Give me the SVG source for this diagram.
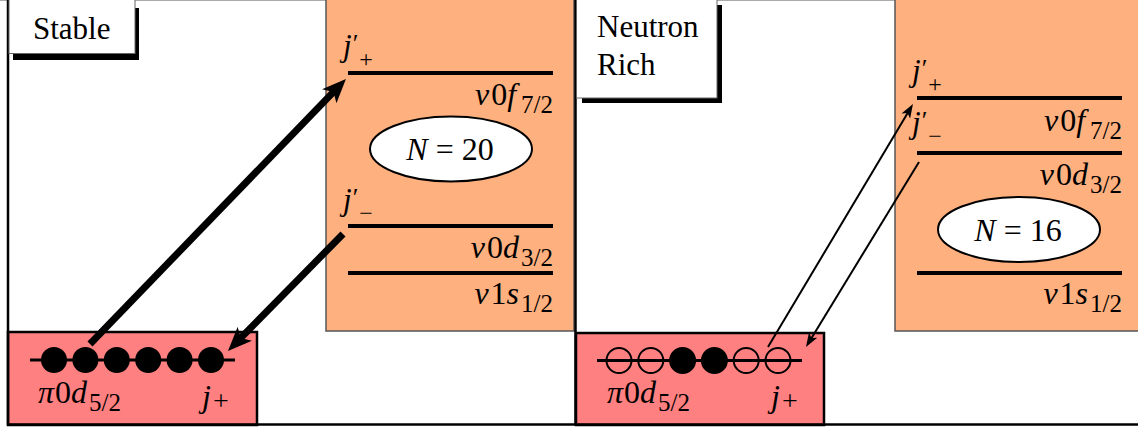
<svg xmlns="http://www.w3.org/2000/svg" width="1138" height="429" viewBox="0 0 1138 429" font-family="'Liberation Serif', 'Times New Roman', 'DejaVu Serif', serif">
<style>
text{font-family:"Liberation Serif","Times New Roman","DejaVu Serif",serif;font-size:31px;fill:#000}
.m{font-size:32px}
.it{font-style:italic}
.sub{font-size:25px}
.sm{font-size:24px}
.pl{font-size:28px}
.pr{font-size:26px}
.orange{fill:#FFB07F;stroke:#555;stroke-width:1.5}
.red{fill:#FF8080;stroke:#000;stroke-width:2.5}
.lvl{stroke:#000;stroke-width:4}
.ell{fill:#fff;stroke:#000;stroke-width:2}
.thick{stroke:#000;stroke-width:7;fill:none}
.thin{stroke:#000;stroke-width:2;fill:none}
.frame{stroke:#000;stroke-width:2.5;fill:none}
</style>
<defs>
<marker id="ahThick" markerUnits="userSpaceOnUse" viewBox="0 0 24 20" markerWidth="24" markerHeight="20" refX="12" refY="10" orient="auto">
<path d="M0,0 L24,10 L0,20 L6,10 z" fill="#000"/>
</marker>
<marker id="ahThin" markerUnits="userSpaceOnUse" viewBox="0 0 14 10" markerWidth="14" markerHeight="10" refX="8" refY="5" orient="auto">
<path d="M0,0 L14,5 L0,10 L3.5,5 z" fill="#000"/>
</marker>
</defs>
<rect x="0" y="0" width="1138" height="429" fill="#fff"/>
<line x1="0" y1="0.5" x2="1138" y2="0.5" stroke="#aaa" stroke-width="1"/>

<g id="stable-orange">
<rect class="orange" x="326" y="-1" width="248" height="332"/>
<line class="lvl" x1="348" y1="73" x2="553" y2="73"/>
<line class="lvl" x1="348" y1="226" x2="553" y2="226"/>
<line class="lvl" x1="348" y1="273" x2="553" y2="273"/>
<text x="343" y="56"><tspan class="it">j</tspan><tspan class="pr" dx="1" dy="-4">′</tspan><tspan class="sm" dx="1" dy="15">+</tspan></text>
<text x="343" y="210"><tspan class="it">j</tspan><tspan class="pr" dx="1" dy="-4">′</tspan><tspan class="sm" dx="1" dy="15">−</tspan></text>
<text class="m" x="553" y="105" text-anchor="end"><tspan class="it">ν</tspan><tspan dx="2">0</tspan><tspan class="it">f</tspan><tspan class="sub" dx="5" dy="8">7/2</tspan></text>
<text class="m" x="553" y="258" text-anchor="end"><tspan class="it">ν</tspan><tspan dx="2">0</tspan><tspan class="it">d</tspan><tspan class="sub" dx="2" dy="8">3/2</tspan></text>
<text class="m" x="553" y="304" text-anchor="end"><tspan class="it">ν</tspan><tspan dx="2">1</tspan><tspan class="it">s</tspan><tspan class="sub" dx="2" dy="8">1/2</tspan></text>
</g>
<g id="stable-n20">
<ellipse class="ell" cx="451" cy="149" rx="81" ry="32.5"/>
<text class="m" x="450" y="160" text-anchor="middle"><tspan class="it">N</tspan> = 20</text>
</g>

<g id="rich-orange">
<rect class="orange" x="895" y="-1" width="245" height="332"/>
<line class="lvl" x1="917" y1="98" x2="1122" y2="98"/>
<line class="lvl" x1="917" y1="153" x2="1122" y2="153"/>
<line class="lvl" x1="917" y1="273" x2="1122" y2="273"/>
<text x="912" y="81"><tspan class="it">j</tspan><tspan class="pr" dx="1" dy="-4">′</tspan><tspan class="sm" dx="1" dy="15">+</tspan></text>
<text x="912" y="133"><tspan class="it">j</tspan><tspan class="pr" dx="1" dy="-4">′</tspan><tspan class="sm" dx="1" dy="15">−</tspan></text>
<text class="m" x="1122" y="131" text-anchor="end"><tspan class="it">ν</tspan><tspan dx="2">0</tspan><tspan class="it">f</tspan><tspan class="sub" dx="5" dy="8">7/2</tspan></text>
<text class="m" x="1122" y="185" text-anchor="end"><tspan class="it">ν</tspan><tspan dx="2">0</tspan><tspan class="it">d</tspan><tspan class="sub" dx="2" dy="8">3/2</tspan></text>
<text class="m" x="1122" y="304" text-anchor="end"><tspan class="it">ν</tspan><tspan dx="2">1</tspan><tspan class="it">s</tspan><tspan class="sub" dx="2" dy="8">1/2</tspan></text>
</g>
<g id="rich-n16">
<ellipse class="ell" cx="1019" cy="229.5" rx="81" ry="32.5"/>
<text class="m" x="1018" y="241" text-anchor="middle"><tspan class="it">N</tspan> = 16</text>
</g>

<g id="stable-proton">
<rect class="red" x="8" y="332" width="249" height="93"/>
<line x1="30" y1="360" x2="235" y2="360" stroke="#000" stroke-width="3"/>
<g fill="#000">
<circle cx="54" cy="360" r="13"/><circle cx="85.4" cy="360" r="13"/><circle cx="116.8" cy="360" r="13"/>
<circle cx="148.2" cy="360" r="13"/><circle cx="179.6" cy="360" r="13"/><circle cx="211" cy="360" r="13"/>
</g>
<text class="m" x="38" y="403"><tspan class="it">π</tspan><tspan dx="1">0</tspan><tspan class="it">d</tspan><tspan class="sub" dx="2" dy="8">5/2</tspan></text>
<text class="m" x="202" y="407"><tspan class="it">j</tspan><tspan class="pl" dx="2" dy="3">+</tspan></text>
</g>

<g id="rich-proton">
<rect class="red" x="576" y="333" width="248" height="92"/>
<line x1="597" y1="360.5" x2="802" y2="360.5" stroke="#000" stroke-width="3"/>
<g stroke="#000" stroke-width="2">
<circle cx="619" cy="360.5" r="12.5" fill="none"/><circle cx="650.8" cy="360.5" r="12.5" fill="none"/>
<circle cx="682.6" cy="360.5" r="12.5" fill="#000"/><circle cx="714.4" cy="360.5" r="12.5" fill="#000"/>
<circle cx="746.2" cy="360.5" r="12.5" fill="none"/><circle cx="778" cy="360.5" r="12.5" fill="none"/>
</g>
<text class="m" x="607" y="403"><tspan class="it">π</tspan><tspan dx="1">0</tspan><tspan class="it">d</tspan><tspan class="sub" dx="2" dy="8">5/2</tspan></text>
<text class="m" x="771" y="407"><tspan class="it">j</tspan><tspan class="pl" dx="2" dy="3">+</tspan></text>
</g>

<g id="frames">
<line class="frame" x1="8" y1="0" x2="8" y2="425"/>
<line class="frame" x1="575.5" y1="0" x2="575.5" y2="425"/>
<line class="frame" x1="7" y1="424.5" x2="1138" y2="424.5"/>
</g>

<g id="label-stable">
<rect x="13" y="8" width="126" height="52" fill="#000"/>
<rect x="9" y="-1" width="126" height="54.5" fill="#fff" stroke="#666" stroke-width="1"/>
<text x="33" y="39">Stable</text>
</g>
<g id="label-rich">
<rect x="582" y="5" width="140" height="98" fill="#000"/>
<rect x="576.5" y="-1" width="140.5" height="99" fill="#fff" stroke="#666" stroke-width="1"/>
<text x="597" y="37">Neutron</text>
<text x="597" y="75">Rich</text>
</g>

<g id="connectors">
<line class="thick" x1="90" y1="344" x2="337.6" y2="87.6" marker-end="url(#ahThick)"/>
<line class="thick" x1="343" y1="234" x2="236.4" y2="342.4" marker-end="url(#ahThick)"/>
<line class="thin" x1="768" y1="347" x2="909.9" y2="109.2" marker-end="url(#ahThin)"/>
<line class="thin" x1="919" y1="162" x2="809.1" y2="341.9" marker-end="url(#ahThin)"/>
</g>
</svg>
